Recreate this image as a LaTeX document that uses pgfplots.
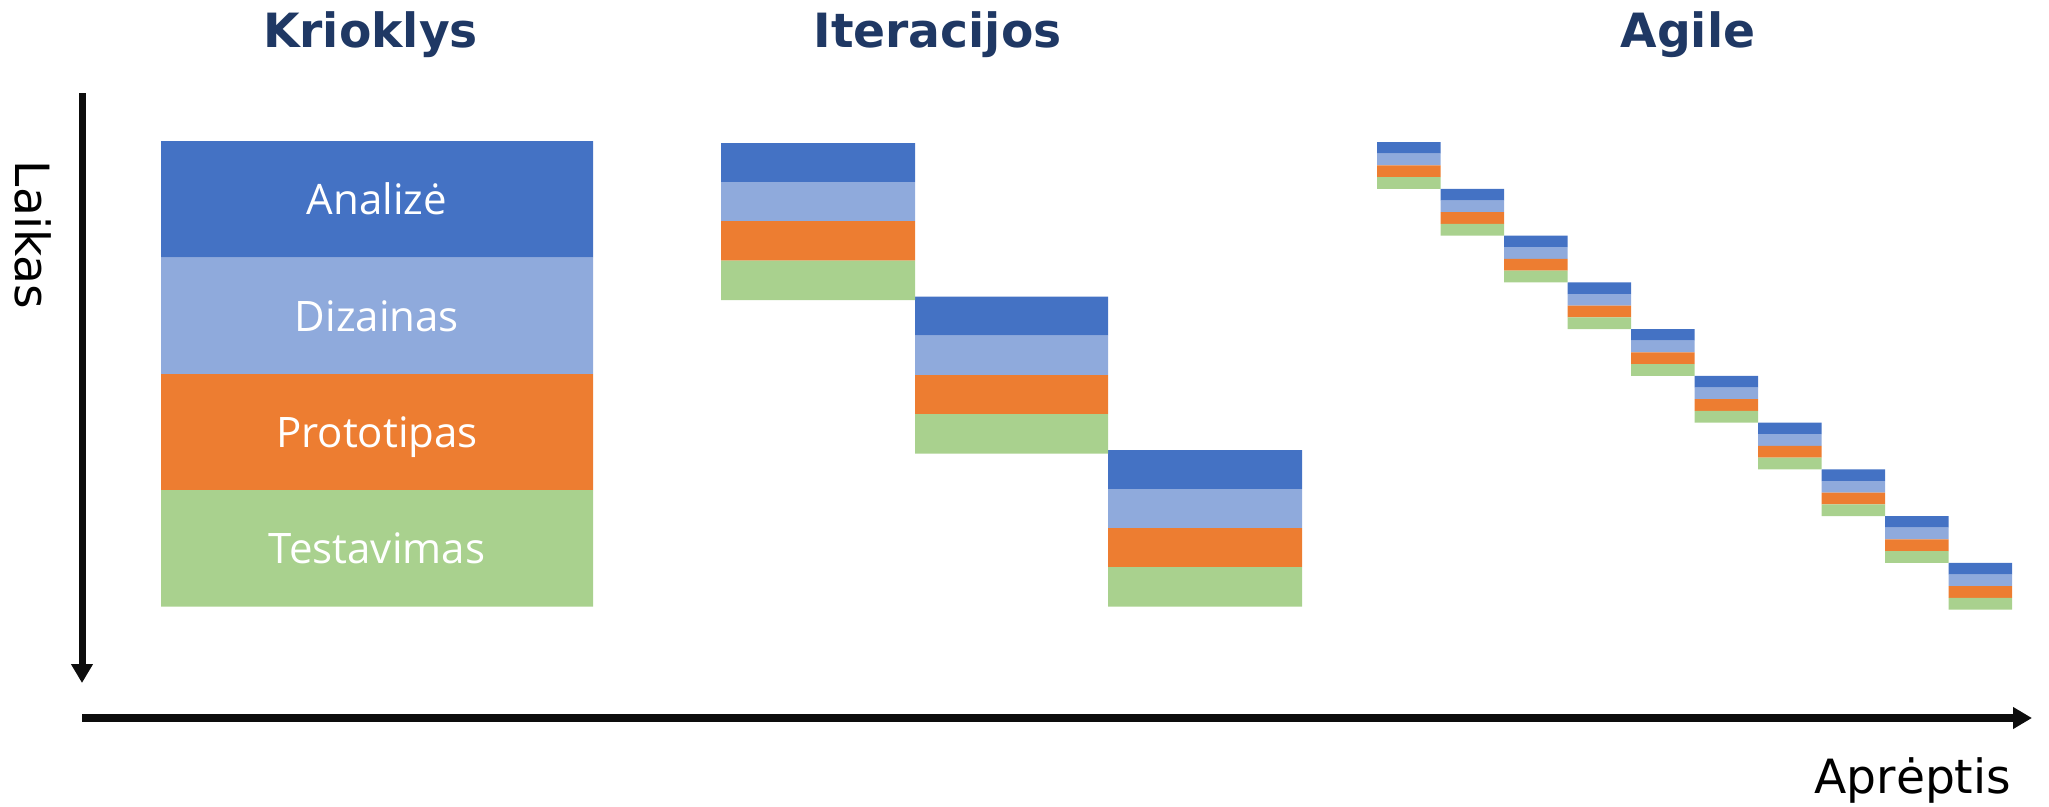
\documentclass[border=0pt]{standalone}
\usepackage{pgfplots}
\pgfplotsset{compat=1.18}
\usetikzlibrary{arrows.meta}
\usepackage{fontspec}
\setmainfont{DejaVu Sans}
\newfontfamily\opensans{Open Sans}
\definecolor{cA}{HTML}{4472C4}
\definecolor{cD}{HTML}{8FAADC}
\definecolor{cP}{HTML}{ED7D31}
\definecolor{cT}{HTML}{A9D18E}
\definecolor{navy}{HTML}{1F3864}
\begin{document}
\begin{tikzpicture}
\begin{axis}[
  scale only axis, width=512.25pt, height=201.5pt,
  xmin=0, xmax=2049, ymin=0, ymax=806, y dir=reverse,
  hide axis, clip=false, unbounded coords=jump,
]
\addplot[draw=none, mark=none] coordinates {(0,0) (2049,806)};
% Analize (blue)
\addplot[draw=none, fill=cA, mark=none] coordinates {
(161,141) (593,141) (593,257.5) (161,257.5) (nan,nan)
(721,143) (915,143) (915,182) (721,182) (nan,nan)
(915,296.5) (1108,296.5) (1108,335.5) (915,335.5) (nan,nan)
(1108,450) (1302,450) (1302,489) (1108,489) (nan,nan)
(1377,142) (1440.5,142) (1440.5,153.7) (1377,153.7) (nan,nan)
(1440.5,188.8) (1504,188.8) (1504,200.5) (1440.5,200.5) (nan,nan)
(1504,235.5) (1567.5,235.5) (1567.5,247.2) (1504,247.2) (nan,nan)
(1567.5,282.3) (1631,282.3) (1631,294.0) (1567.5,294.0) (nan,nan)
(1631,329.0) (1694.5,329.0) (1694.5,340.7) (1631,340.7) (nan,nan)
(1694.5,375.8) (1758,375.8) (1758,387.5) (1694.5,387.5) (nan,nan)
(1758,422.5) (1821.5,422.5) (1821.5,434.2) (1758,434.2) (nan,nan)
(1821.5,469.3) (1885,469.3) (1885,481.0) (1821.5,481.0) (nan,nan)
(1885,516.0) (1948.5,516.0) (1948.5,527.7) (1885,527.7) (nan,nan)
(1948.5,562.8) (2012,562.8) (2012,574.5) (1948.5,574.5)
};
% Dizainas (light blue)
\addplot[draw=none, fill=cD, mark=none] coordinates {
(161,257.5) (593,257.5) (593,374) (161,374) (nan,nan)
(721,182) (915,182) (915,221) (721,221) (nan,nan)
(915,335.5) (1108,335.5) (1108,375) (915,375) (nan,nan)
(1108,489) (1302,489) (1302,528) (1108,528) (nan,nan)
(1377,153.7) (1440.5,153.7) (1440.5,165.4) (1377,165.4) (nan,nan)
(1440.5,200.5) (1504,200.5) (1504,212.2) (1440.5,212.2) (nan,nan)
(1504,247.2) (1567.5,247.2) (1567.5,258.9) (1504,258.9) (nan,nan)
(1567.5,294.0) (1631,294.0) (1631,305.7) (1567.5,305.7) (nan,nan)
(1631,340.7) (1694.5,340.7) (1694.5,352.4) (1631,352.4) (nan,nan)
(1694.5,387.5) (1758,387.5) (1758,399.2) (1694.5,399.2) (nan,nan)
(1758,434.2) (1821.5,434.2) (1821.5,445.9) (1758,445.9) (nan,nan)
(1821.5,481.0) (1885,481.0) (1885,492.7) (1821.5,492.7) (nan,nan)
(1885,527.7) (1948.5,527.7) (1948.5,539.4) (1885,539.4) (nan,nan)
(1948.5,574.5) (2012,574.5) (2012,586.2) (1948.5,586.2)
};
% Prototipas (orange)
\addplot[draw=none, fill=cP, mark=none] coordinates {
(161,374) (593,374) (593,490) (161,490) (nan,nan)
(721,221) (915,221) (915,260.5) (721,260.5) (nan,nan)
(915,375) (1108,375) (1108,414) (915,414) (nan,nan)
(1108,528) (1302,528) (1302,567) (1108,567) (nan,nan)
(1377,165.4) (1440.5,165.4) (1440.5,177.1) (1377,177.1) (nan,nan)
(1440.5,212.2) (1504,212.2) (1504,223.9) (1440.5,223.9) (nan,nan)
(1504,258.9) (1567.5,258.9) (1567.5,270.6) (1504,270.6) (nan,nan)
(1567.5,305.7) (1631,305.7) (1631,317.4) (1567.5,317.4) (nan,nan)
(1631,352.4) (1694.5,352.4) (1694.5,364.1) (1631,364.1) (nan,nan)
(1694.5,399.2) (1758,399.2) (1758,410.9) (1694.5,410.9) (nan,nan)
(1758,445.9) (1821.5,445.9) (1821.5,457.6) (1758,457.6) (nan,nan)
(1821.5,492.7) (1885,492.7) (1885,504.4) (1821.5,504.4) (nan,nan)
(1885,539.4) (1948.5,539.4) (1948.5,551.1) (1885,551.1) (nan,nan)
(1948.5,586.2) (2012,586.2) (2012,597.9) (1948.5,597.9)
};
% Testavimas (green)
\addplot[draw=none, fill=cT, mark=none] coordinates {
(161,490) (593,490) (593,606.5) (161,606.5) (nan,nan)
(721,260.5) (915,260.5) (915,300) (721,300) (nan,nan)
(915,414) (1108,414) (1108,453.5) (915,453.5) (nan,nan)
(1108,567) (1302,567) (1302,606.5) (1108,606.5) (nan,nan)
(1377,177.1) (1440.5,177.1) (1440.5,188.8) (1377,188.8) (nan,nan)
(1440.5,223.9) (1504,223.9) (1504,235.5) (1440.5,235.5) (nan,nan)
(1504,270.6) (1567.5,270.6) (1567.5,282.3) (1504,282.3) (nan,nan)
(1567.5,317.4) (1631,317.4) (1631,329.0) (1567.5,329.0) (nan,nan)
(1631,364.1) (1694.5,364.1) (1694.5,375.8) (1631,375.8) (nan,nan)
(1694.5,410.9) (1758,410.9) (1758,422.5) (1694.5,422.5) (nan,nan)
(1758,457.6) (1821.5,457.6) (1821.5,469.3) (1758,469.3) (nan,nan)
(1821.5,504.4) (1885,504.4) (1885,516.0) (1821.5,516.0) (nan,nan)
(1885,551.1) (1948.5,551.1) (1948.5,562.8) (1885,562.8) (nan,nan)
(1948.5,597.9) (2012,597.9) (2012,609.5) (1948.5,609.5)
};
% axes arrows
\addplot[mark=none, black!95, line width=1.75pt, -{Triangle[length=4.75pt,width=5.2pt]}] coordinates {(82,93) (82,683)};
\addplot[mark=none, black!95, line width=1.9pt, -{Triangle[length=4.75pt,width=5.2pt]}] coordinates {(82,718) (2032,718)};
% titles
\node[anchor=base, inner sep=0pt, text=navy, font=\fontsize{11.8}{14}\selectfont\bfseries] at (axis cs:370.5,47.5) {Krioklys};
\node[anchor=base, inner sep=0pt, text=navy, font=\fontsize{11.8}{14}\selectfont\bfseries] at (axis cs:937.5,47.5) {Iteracijos};
\node[anchor=base, inner sep=0pt, text=navy, font=\fontsize{11.8}{14}\selectfont\bfseries] at (axis cs:1688,47.5) {Agile};
% axis labels
\node[rotate=-90, inner sep=0pt, font=\fontsize{11.8}{14}\selectfont] at (axis cs:33,235) {Laikas};
\node[anchor=base east, inner sep=0pt, font=\fontsize{11.8}{14}\selectfont] at (axis cs:2012,793) {Aprėptis};
% labels in the Krioklys block
\node[anchor=base, inner sep=0pt, text=white, font=\opensans\fontsize{10.5}{12}\selectfont] at (axis cs:377,214.5) {Analizė};
\node[anchor=base, inner sep=0pt, text=white, font=\opensans\fontsize{10.5}{12}\selectfont] at (axis cs:377,331.5) {Dizainas};
\node[anchor=base, inner sep=0pt, text=white, font=\opensans\fontsize{10.5}{12}\selectfont] at (axis cs:377,447.5) {Prototipas};
\node[anchor=base, inner sep=0pt, text=white, font=\opensans\fontsize{10.5}{12}\selectfont] at (axis cs:377,563.5) {Testavimas};
\end{axis}
\end{tikzpicture}
\end{document}
